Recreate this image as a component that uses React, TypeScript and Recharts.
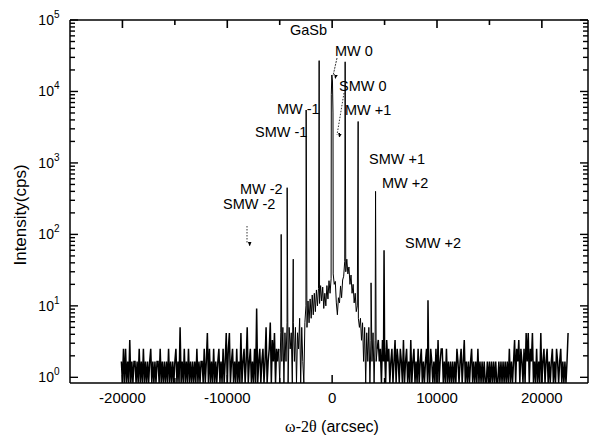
import React from 'react';
import { LineChart, Line, XAxis, YAxis } from 'recharts';

const SANS = '"Liberation Sans", Arial, sans-serif';
const SERIF = '"Liberation Serif", "Times New Roman", serif';

// scan step in arcsec, counting time per point in s (1 count = 0.83 cps)
const step = 100;
const countTime = 1.2;

// background counts, left tail (from -20100")
const leftNoiseStart = -20100;
const leftNoiseCounts = [
  2, 1, 3, 1, 3, 1, 2, 1, 4, 1,
  2, 1, 2, 2, 1, 2, 1, 3, 1, 2,
  1, 3, 1, 2, 1, 2, 1, 2, 3, 1,
  2, 1, 2, 1, 2, 2, 1, 3, 1, 2,
  1, 2, 1, 2, 1, 3, 1, 2, 1, 2,
  1, 2, 3, 1, 2, 1, 6, 1, 2, 1,
  3, 1, 2, 1, 3, 1, 2, 1, 2, 1,
  2, 1, 3, 1, 2, 1, 2, 2, 1, 3,
  1, 2, 5, 1, 3, 1, 2, 1, 3, 1,
  2, 1, 2, 3, 1, 2, 1, 3, 1, 2,
  5, 1, 3, 5, 1, 2, 3, 1, 2, 1,
  3, 1, 2, 1, 5, 1, 2, 3, 1, 2,
  6, 1, 2, 3, 1, 2, 1, 3, 1, 11,
  1, 2, 3, 1, 2, 3, 1, 2, 6, 1,
  2, 3, 7, 1, 4, 2, 5, 1, 3, 2,
  3,
];

// diffuse intensity around the zero order, cps
const centerLeftStart = -5000;
const centerLeftCps = [
  0.83, 4.2, 1.67, 5, 0.83, 4.2, 1.67, 5.8, 0.83, 5,
  2.5, 4.2, 0.83, 5.8, 1.67, 5, 0.83, 4.2, 2.5, 6.7,
  0.83, 5, 1.67, 0.83, 5.8, 10, 5, 11.7, 5.8, 12.5,
  6.7, 14.2, 7.5, 15, 8.3, 16.7, 10, 17.5, 10.8, 19.2,
  11.7, 18.3, 9.2, 15, 10, 19.2, 12.5, 22.5, 15, 24,
];
const centerRightStart = 100;
const centerRightCps = [
  28, 20, 22, 11, 7.5, 13, 11, 19, 13, 23,
  26, 42, 30, 45, 28, 35, 20, 27, 15, 20,
  11, 15, 8.3, 10, 6.7, 5, 6.7, 3.3, 5.8, 1.67,
  5, 0.83, 4.2, 1.67, 5, 0.83, 3.3, 1.67, 4.2, 0.83,
  3.3, 1.67,
];

// background counts, right tail (from 4300")
const rightNoiseStart = 4300;
const rightNoiseCounts = [
  3, 4, 2, 3, 1, 4, 2, 3, 1, 4,
  2, 3, 1, 2, 3, 1, 2, 4, 1, 3,
  2, 1, 3, 2, 1, 4, 1, 2, 3, 1,
  2, 1, 4, 1, 2, 3, 1, 2, 1, 3,
  1, 2, 3, 1, 2, 1, 2, 3, 1, 2,
  1, 3, 2, 1, 2, 1, 3, 1, 4, 1,
  2, 3, 3, 1, 2, 1, 3, 1, 2, 1,
  2, 1, 2, 1, 2, 1, 3, 2, 1, 2,
  3, 1, 2, 4, 1, 2, 1, 2, 1, 2,
  3, 1, 2, 1, 2, 1, 3, 1, 2, 1,
  2, 1, 2, 1, 1, 2, 1, 2, 1, 2,
  1, 2, 1, 2, 1, 1, 2, 1, 2, 1,
  2, 1, 2, 1, 2, 1, 3, 1, 2, 1,
  2, 4, 1, 3, 2, 4, 1, 3, 2, 1,
  3, 1, 5, 2, 5, 1, 3, 2, 5, 1,
  2, 1, 3, 1, 2, 1, 5, 1, 2, 3,
  1, 2, 3, 1, 2, 1, 2, 3, 1, 2,
  1, 3, 2, 1, 2, 3, 1, 2, 1, 2,
  1, 2, 5,
];

// substrate, MW and SMW satellite peaks
const peakX = [-4860, -4290, -3710, -2480, -1240, -80, -30, 30, 80, 1240, 2480, 3710, 4140, 4950, 9140];
const peakCps = [100, 450, 45, 5500, 27000, 9000, 17000, 14000, 5000, 26000, 3800, 21, 400, 60, 12];

const xTicks = [-20000, -15000, -10000, -5000, 0, 5000, 10000, 15000, 20000];
const yDecades = [1, 10, 100, 1000, 10000];
const yTicks = [...yDecades.flatMap((d) => [1, 2, 3, 4, 5, 6, 7, 8, 9].map((m) => m * d)), 100000];

type Pt = { x: number; y: number };
const byX = (a: Pt, b: Pt) => a.x - b.x;
const peaks: Pt[] = peakX.map((x, i) => ({ x, y: peakCps[i] }));

// tails: sparse background counts, drawn a bit heavier like the dense original scan
const leftTail: Pt[] = leftNoiseCounts.map((c, i) => ({ x: leftNoiseStart + i * step, y: c / countTime }));
const rightTail: Pt[] = [
  ...rightNoiseCounts.map((c, i) => ({ x: rightNoiseStart + i * step, y: c / countTime })),
  ...peaks.filter((p) => p.x >= rightNoiseStart),
].sort(byX);

const core: Pt[] = [
  ...centerLeftCps.map((v, i) => ({ x: centerLeftStart + i * step, y: v })),
  ...centerRightCps.map((v, i) => ({ x: centerRightStart + i * step, y: v })),
  ...peaks.filter((p) => p.x < rightNoiseStart),
].sort(byX);
const leftJoin = [leftTail[leftTail.length - 1], core[0]];
const rightJoin = [core[core.length - 1], rightTail[0]];
const all = [...leftTail, ...core, ...rightTail];

const isDecade = (v: number) => Math.abs(Math.log10(v) - Math.round(Math.log10(v))) < 1e-9;

const BottomTick = (props: any) => {
  const { x, y, payload } = props;
  const major = payload.value % 10000 === 0;
  return (
    <g>
      <line x1={x} y1={y} x2={x} y2={y - (major ? 8 : 5)} stroke="#000" strokeWidth={1.5} />
      {major && (
        <text x={x} y={y + 20} textAnchor="middle" fontSize={15} fontFamily={SANS} fill="#000">
          {payload.value}
        </text>
      )}
    </g>
  );
};

const TopTick = (props: any) => {
  const { x, y, payload } = props;
  const major = payload.value % 10000 === 0;
  return <line x1={x} y1={y} x2={x} y2={y + (major ? 8 : 5)} stroke="#000" strokeWidth={1.6} />;
};

const LeftTick = (props: any) => {
  const { x, y, payload } = props;
  const major = isDecade(payload.value);
  return (
    <g>
      <line x1={x} y1={y} x2={x + (major ? 8 : 5)} y2={y} stroke="#000" strokeWidth={1.4} />
      {major && (
        <text x={x - 10.5} y={y + 5} textAnchor="end" fontSize={14} fontFamily={SANS} fill="#000">
          10
          <tspan dy={-7} fontSize={10}>{Math.round(Math.log10(payload.value))}</tspan>
        </text>
      )}
    </g>
  );
};

const RightTick = (props: any) => {
  const { x, y, payload } = props;
  const major = isDecade(payload.value);
  return <line x1={x} y1={y} x2={x - (major ? 8 : 5)} y2={y} stroke="#000" strokeWidth={1.4} />;
};

const labels = [
  { text: 'GaSb', x: 290, y: 35 },
  { text: 'MW 0', x: 335, y: 56 },
  { text: 'SMW 0', x: 339, y: 91 },
  { text: 'MW +1', x: 345, y: 115 },
  { text: 'SMW +1', x: 369, y: 164 },
  { text: 'MW +2', x: 382, y: 188 },
  { text: 'SMW +2', x: 405, y: 248 },
  { text: 'MW -1', x: 277, y: 114 },
  { text: 'SMW -1', x: 255, y: 137 },
  { text: 'MW -2', x: 240, y: 194 },
  { text: 'SMW -2', x: 223, y: 209 },
];

const App = () => {
  const axisLine = { stroke: '#000', strokeWidth: 1.5 };
  const lineProps = { xAxisId: 'b', yAxisId: 'l', dataKey: 'y', type: 'linear' as const, dot: false, isAnimationActive: false };
  return (
    <div style={{ position: 'absolute', left: 0, top: 0, width: 594, height: 437, background: '#fff' }}>
      <LineChart width={594} height={437} data={all} margin={{ top: 19, right: 5, bottom: 24, left: 10 }}>
        <XAxis xAxisId="b" dataKey="x" type="number" domain={[-25000, 24400]} allowDataOverflow
          ticks={xTicks} interval={0} height={30} tickSize={0} tickMargin={0}
          tick={<BottomTick />} tickLine={false} axisLine={axisLine} />
        <XAxis xAxisId="t" orientation="top" dataKey="x" type="number" domain={[-25000, 24400]} allowDataOverflow
          ticks={xTicks} interval={0} height={1} tickSize={0} tickMargin={0}
          tick={<TopTick />} tickLine={false} axisLine={axisLine} />
        <YAxis yAxisId="l" type="number" scale="log" domain={[0.833, 100000]} allowDataOverflow
          ticks={yTicks} interval={0} width={60} tickSize={0} tickMargin={0}
          tick={<LeftTick />} tickLine={false} axisLine={axisLine} />
        <YAxis yAxisId="r" orientation="right" type="number" scale="log" domain={[0.833, 100000]} allowDataOverflow
          ticks={yTicks} interval={0} width={1} tickSize={0} tickMargin={0}
          tick={<RightTick />} tickLine={false} axisLine={axisLine} />
        <Line xAxisId="t" yAxisId="r" dataKey="y" type="linear" stroke="none" dot={false} isAnimationActive={false} />
        <Line {...lineProps} data={leftTail} stroke="#000" strokeWidth={1.5} />
        <Line {...lineProps} data={rightTail} stroke="#000" strokeWidth={1.5} />
        <Line {...lineProps} data={leftJoin} stroke="#000" strokeWidth={1} />
        <Line {...lineProps} data={rightJoin} stroke="#000" strokeWidth={1} />
        <Line {...lineProps} data={core} stroke="#000" strokeWidth={1} />
      </LineChart>
      <svg width={594} height={437} style={{ position: 'absolute', left: 0, top: 0, pointerEvents: 'none' }}>
        <defs>
          <marker id="arrow" viewBox="0 0 6 8" refX={3} refY={8} markerWidth={5} markerHeight={7} orient="auto-start-reverse">
            <path d="M0,0 L6,0 L3,8 Z" fill="#000" transform="rotate(-90 3 4)" />
          </marker>
        </defs>
        {labels.map((l) => (
          <text key={l.text} x={l.x} y={l.y} fontSize={14.5} fontFamily={SANS} fill="#000">{l.text}</text>
        ))}
        <line x1={337} y1={58} x2={333} y2={76} stroke="#000" strokeWidth={0.8} strokeDasharray="2 1" markerEnd="url(#arrow)" />
        <line x1={344} y1={93} x2={337} y2={135} stroke="#000" strokeWidth={0.8} strokeDasharray="1.5 1.5" markerEnd="url(#arrow)" />
        <line x1={247} y1={226} x2={247} y2={244} stroke="#000" strokeWidth={0.8} strokeDasharray="1.5 1.5" markerEnd="url(#arrow)" />
        <text x={26} y={215} transform="rotate(-90 26 215)" textAnchor="middle" fontSize={17} fontFamily={SANS} fill="#000">
          Intensity(cps)
        </text>
        <text x={332} y={432} textAnchor="middle" fontSize={16} fill="#000">
          <tspan fontFamily={SERIF}>ω-2θ</tspan>
          <tspan fontFamily={SANS}> (arcsec)</tspan>
        </text>
      </svg>
    </div>
  );
};

export default App;
